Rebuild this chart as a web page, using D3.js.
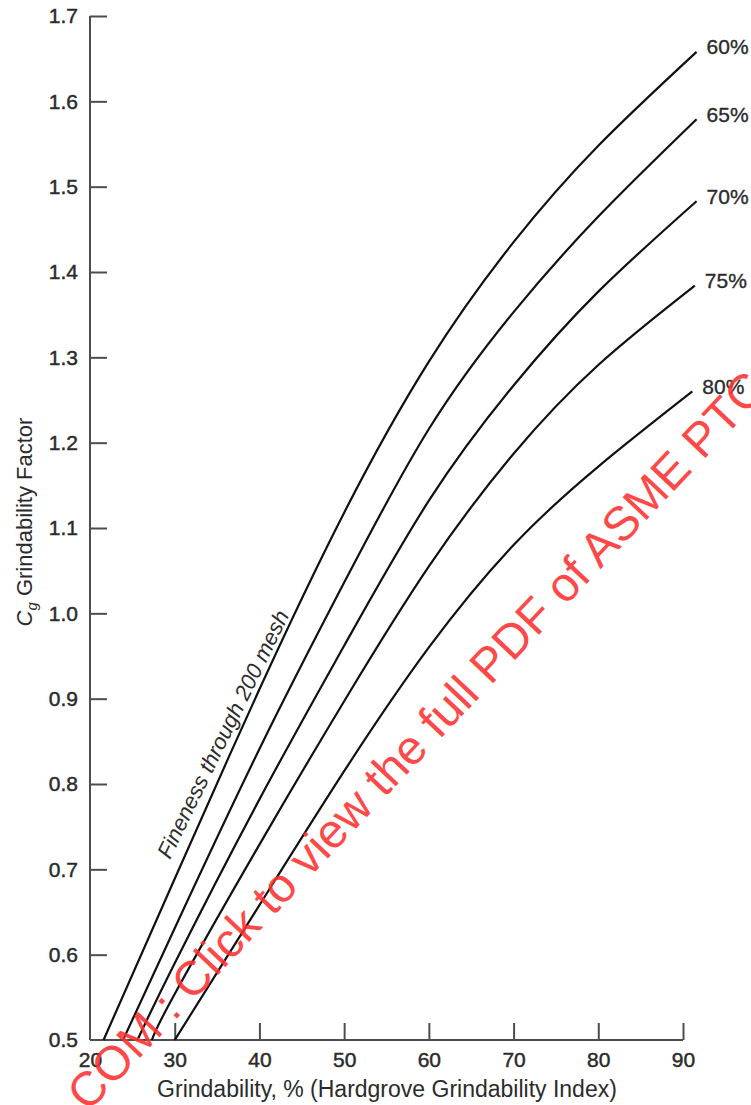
<!DOCTYPE html>
<html>
<head>
<meta charset="utf-8">
<script src="https://cdn.jsdelivr.net/npm/d3@7"></script>
<style>
  html, body { margin: 0; padding: 0; background: #fff; }
  svg { display: block; }
  text { font-family: "Liberation Sans", Arial, Helvetica, sans-serif; }
</style>
</head>
<body>
<script>
// ---- data ----
const fineness = ["60%", "65%", "70%", "75%", "80%"];
const x60 = [21.6, 30, 40, 50, 60, 70, 80, 91.6];
const y60 = [0.5, 0.689, 0.911, 1.118, 1.295, 1.435, 1.548, 1.658];
const x65 = [23.9, 30, 40, 50, 60, 70, 80, 91.6];
const y65 = [0.5, 0.631, 0.841, 1.036, 1.216, 1.353, 1.465, 1.579];
const x70 = [25.6, 30, 40, 50, 60, 70, 80, 91.6];
const y70 = [0.5, 0.59, 0.782, 0.962, 1.132, 1.267, 1.377, 1.483];
const x75 = [27.3, 30, 40, 50, 60, 70, 80, 91.4];
const y75 = [0.5, 0.554, 0.729, 0.897, 1.055, 1.187, 1.291, 1.384];
const x80 = [30.0, 40, 50, 60, 70, 80, 91.1];
const y80 = [0.5, 0.658, 0.815, 0.96, 1.08, 1.172, 1.26];
const xTicks = [20, 30, 40, 50, 60, 70, 80, 90];
const yTicks = [0.5, 0.6, 0.7, 0.8, 0.9, 1.0, 1.1, 1.2, 1.3, 1.4, 1.5, 1.6, 1.7];
const xTitle = "Grindability, % (Hardgrove Grindability Index)";
const yTitleMain = " Grindability Factor";
const curveNote = "Fineness through 200 mesh";
const watermark = "COM : Click to view the full PDF of ASME PTC 4";

const seriesX = [x60, x65, x70, x75, x80];
const seriesY = [y60, y65, y70, y75, y80];

// ---- layout ----
const W = 751, H = 1105;
const svg = d3.select("body").append("svg").attr("width", W).attr("height", H);

const x = d3.scaleLinear().domain([20, 90]).range([90, 683]);
const y = d3.scaleLinear().domain([0.5, 1.7]).range([1040, 16]);

const axisColor = "#4d4d4d";
const textColor = "#2b2b2b";

// x axis (ticks pointing up/inside)
const gx = svg.append("g").attr("transform", `translate(0,${y(0.5)})`)
  .call(d3.axisBottom(x).tickValues(xTicks).tickSize(-17).tickPadding(0).tickFormat(d3.format("d")));
gx.select(".domain").attr("stroke", axisColor).attr("stroke-width", 2).attr("d", `M${x(20)},0H${x(90)}`);
gx.selectAll(".tick line").attr("stroke", axisColor).attr("stroke-width", 2)
  .filter(d => d === 20).remove();
gx.selectAll(".tick text").attr("fill", textColor).attr("stroke", textColor).attr("stroke-width", 0.45)
  .attr("font-size", 21).attr("font-family", "Liberation Sans, Arial, sans-serif")
  .attr("y", 12).attr("dy", "0.71em");

// y axis (ticks pointing right/inside)
const gy = svg.append("g").attr("transform", `translate(${x(20)},0)`)
  .call(d3.axisLeft(y).tickValues(yTicks).tickSize(-17).tickPadding(12).tickFormat(d3.format(".1f")));
gy.select(".domain").attr("stroke", axisColor).attr("stroke-width", 2).attr("d", `M0,${y(0.5)}V${y(1.7)}`);
gy.selectAll(".tick line").attr("stroke", axisColor).attr("stroke-width", 2)
  .filter(d => d === 0.5).remove();
gy.selectAll(".tick text").attr("fill", textColor).attr("stroke", textColor).attr("stroke-width", 0.45)
  .attr("font-size", 21).attr("font-family", "Liberation Sans, Arial, sans-serif").attr("x", -12);

// curves
const line = d3.line().x(d => x(d[0])).y(d => y(d[1])).curve(d3.curveNatural);
seriesX.forEach((xs, i) => {
  const pts = xs.map((v, j) => [v, seriesY[i][j]]);
  svg.append("path").datum(pts).attr("d", line)
    .attr("fill", "none").attr("stroke", "#111").attr("stroke-width", 2.2);
  const last = pts[pts.length - 1];
  svg.append("text").attr("x", x(last[0]) + 10).attr("y", y(last[1]) - 5)
    .attr("dominant-baseline", "central").attr("font-size", 21)
    .attr("fill", textColor).attr("stroke", textColor).attr("stroke-width", 0.35)
    .text(fineness[i]);
});

// note along 60% curve
svg.append("text")
  .attr("transform", `translate(170,860) rotate(-64)`)
  .attr("font-size", 22).attr("font-style", "italic").attr("fill", textColor)
  .text(curveNote);

// axis titles
svg.append("text").attr("x", 387).attr("y", 1097).attr("text-anchor", "middle")
  .attr("font-size", 23).attr("fill", textColor).text(xTitle);

const yt = svg.append("text").attr("transform", "translate(32,522) rotate(-90)")
  .attr("text-anchor", "middle").attr("font-size", 22).attr("fill", textColor);
yt.append("tspan").attr("font-style", "italic").text("C");
yt.append("tspan").attr("font-style", "italic").attr("font-size", 15).attr("dy", 5).text("g");
yt.append("tspan").attr("dy", -5).text(yTitleMain);

// watermark
svg.append("text").attr("transform", "translate(88,1113) rotate(-46.7)")
  .attr("font-size", 48).attr("fill", "#ff3030").attr("fill-opacity", 0.88)
  .text(watermark);
</script>
</body>
</html>
